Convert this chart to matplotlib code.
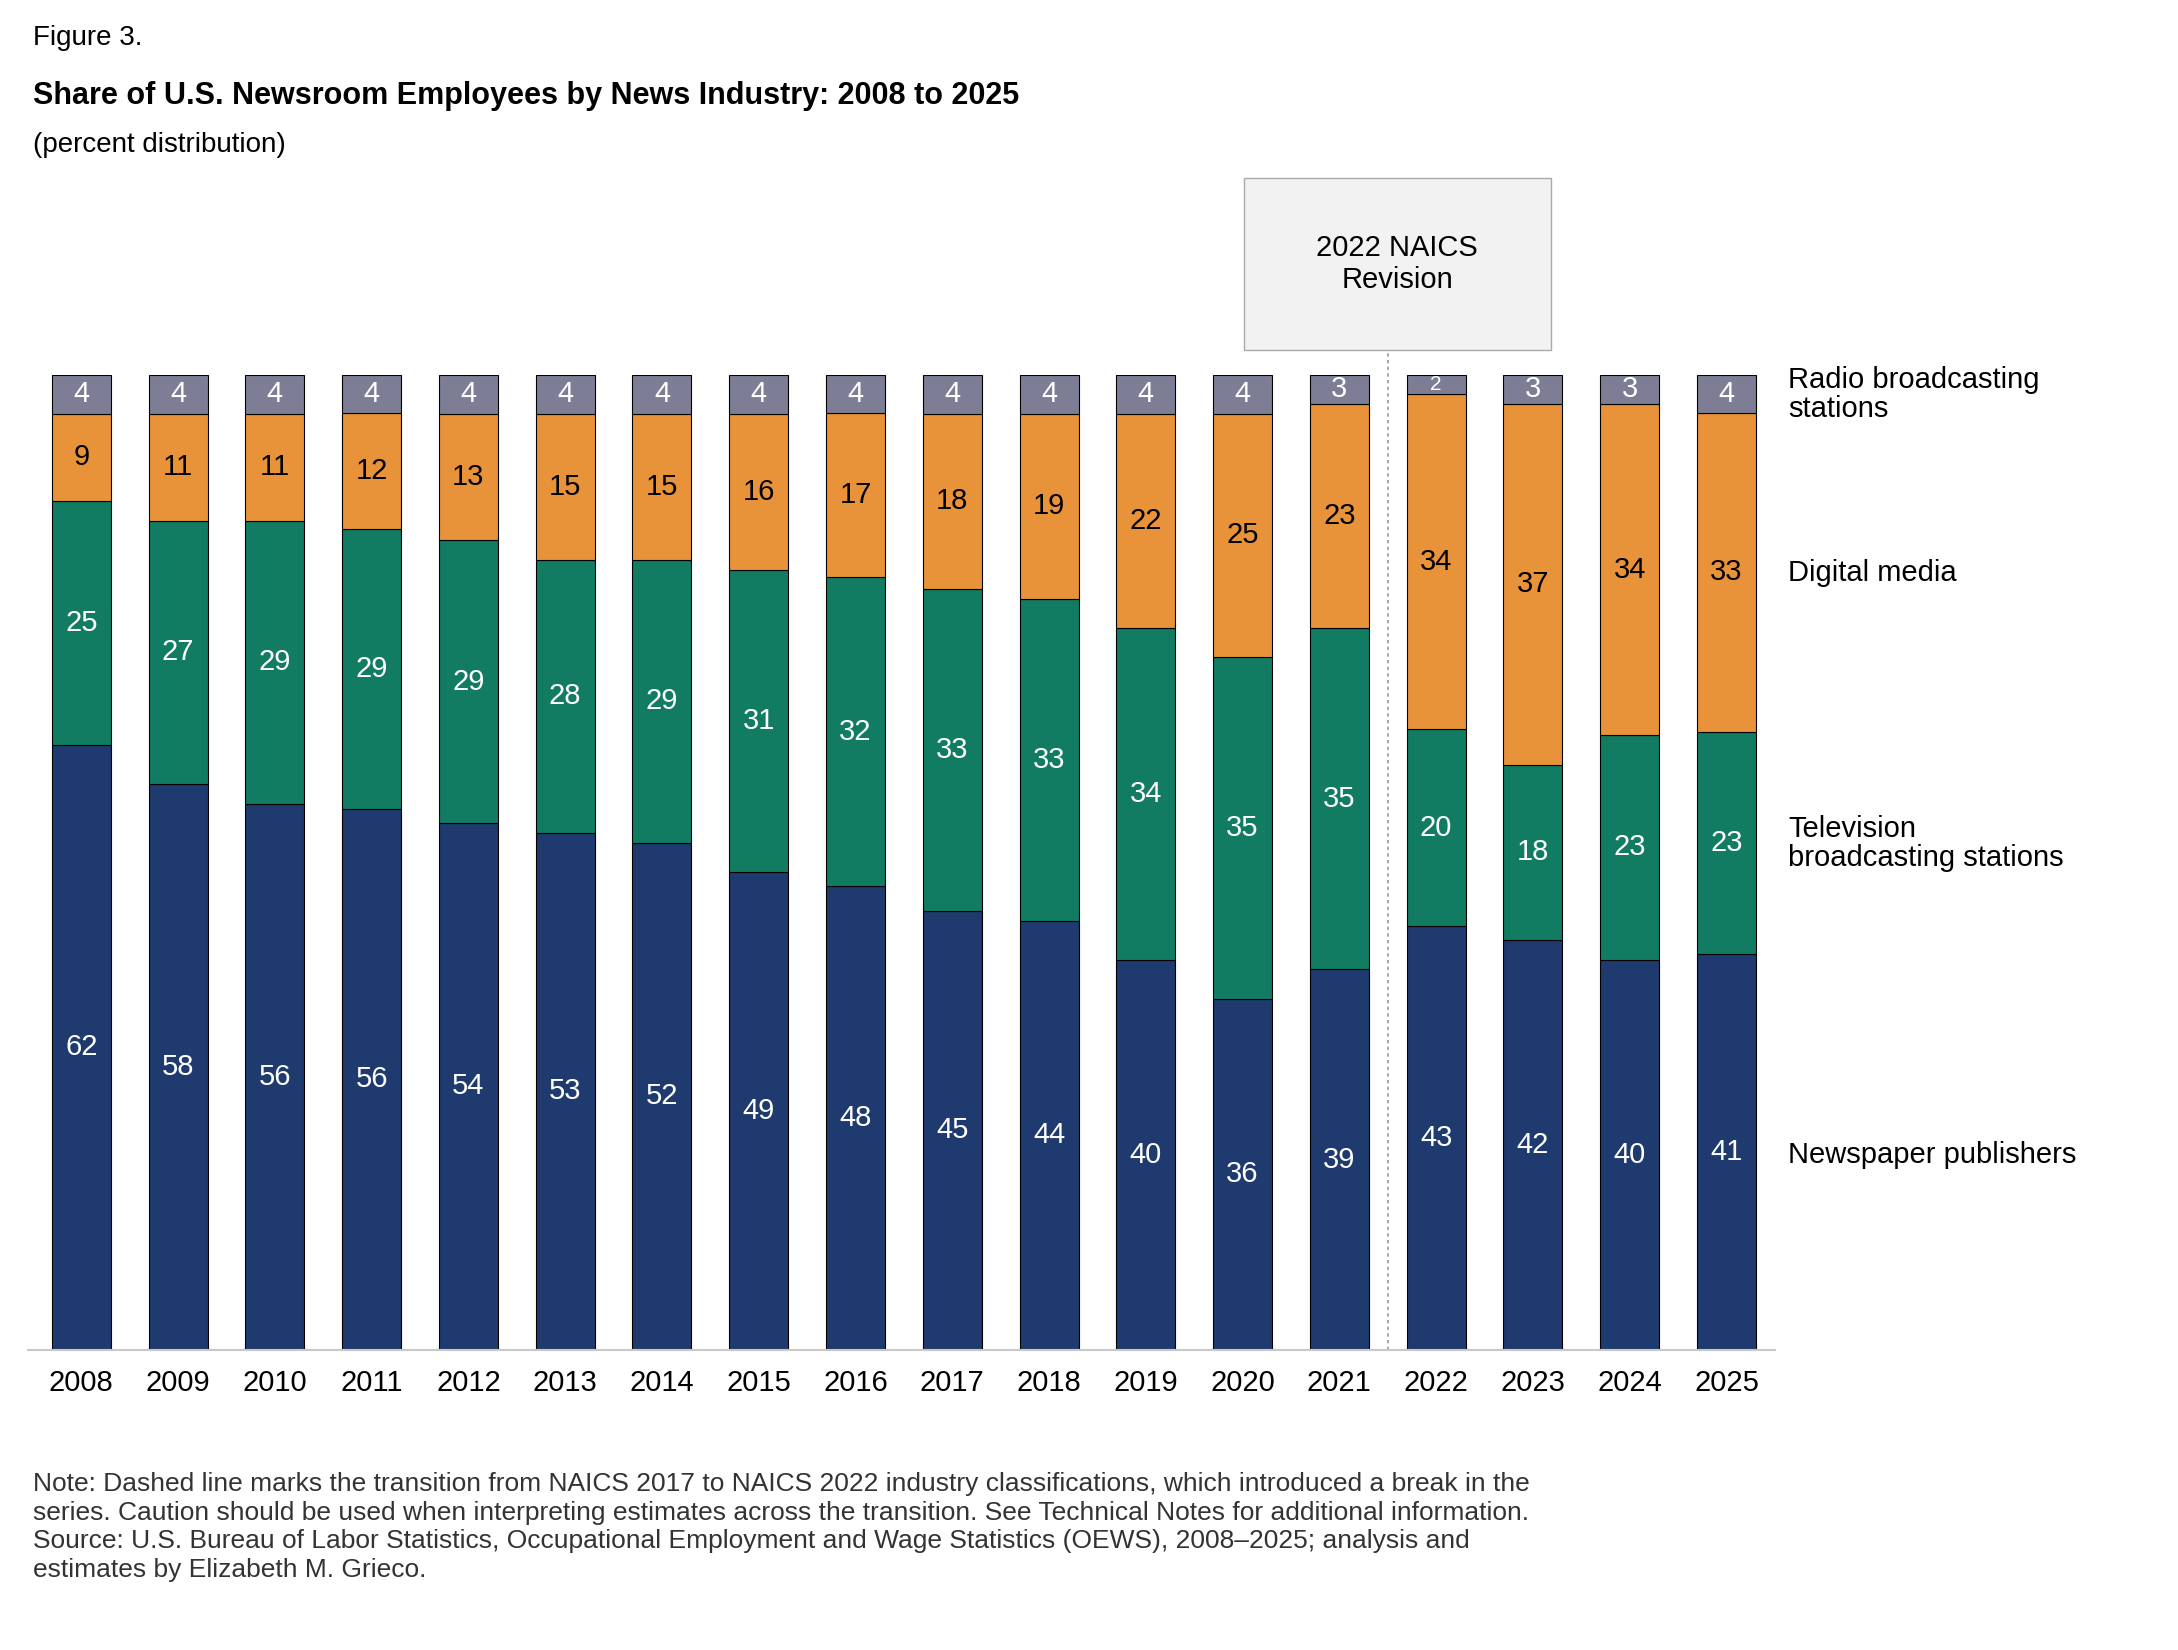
import numpy as np
import matplotlib.pyplot as plt
from matplotlib.patches import Rectangle

plt.rcParams['font.family'] = ['Liberation Sans', 'DejaVu Sans']

years = [str(y) for y in range(2008, 2026)]
newspaper = [62, 58, 56, 56, 54, 53, 52, 49, 48, 45, 44, 40, 36, 39, 43, 42, 40, 41]
television = [25, 27, 29, 29, 29, 28, 29, 31, 32, 33, 33, 34, 35, 35, 20, 18, 23, 23]
digital = [9, 11, 11, 12, 13, 15, 15, 16, 17, 18, 19, 22, 25, 23, 34, 37, 34, 33]
radio = [4, 4, 4, 4, 4, 4, 4, 4, 4, 4, 4, 4, 4, 3, 2, 3, 3, 4]

series = [("Newspaper publishers", newspaper, "#1f3a6e", "white"),
          ("Television\nbroadcasting stations", television, "#127c63", "white"),
          ("Digital media", digital, "#e8923a", "black"),
          ("Radio broadcasting\nstations", radio, "#7d7d96", "white")]

vals = np.array([s[1] for s in series], dtype=float)
shares = vals / vals.sum(axis=0) * 100

W, H = 2178, 1650
fig = plt.figure(figsize=(W / 100, H / 100), dpi=100)
ax = fig.add_axes([0.0129, 0.182, 0.802, 0.591])
x = np.arange(len(years))
bottom = np.zeros(len(years))
for i, (name, raw, color, tc) in enumerate(series):
    ax.bar(x, shares[i], 0.61, bottom=bottom, color=color, edgecolor="black", linewidth=0.8)
    for j in range(len(years)):
        fs = 15 if raw[j] <= 2 else 21
        ax.text(x[j], bottom[j] + shares[i][j] / 2, str(raw[j]), ha="center", va="center",
                color=tc, fontsize=fs)
    bottom += shares[i]

ax.set_xlim(-0.55, 17.5)
ax.set_ylim(0, 100)
ax.set_xticks(x, years, fontsize=21)
ax.tick_params(axis="x", length=0, pad=14)
ax.set_yticks([])
for s in ["top", "right", "left"]:
    ax.spines[s].set_visible(False)
ax.spines["bottom"].set_color("#c8c8c8")
ax.spines["bottom"].set_linewidth(1.5)

ax.plot([13.5, 13.5], [0, 102.6], ls=(0, (2, 2)), color="#999999", lw=1.2, clip_on=False)
fig.patches.append(Rectangle((0.571, 0.788), 0.141, 0.104, transform=fig.transFigure,
                             facecolor="#f2f2f2", edgecolor="#aaaaaa", lw=1))
fig.text(0.6415, 0.84, "2022 NAICS\nRevision", ha="center", va="center", fontsize=21,
         linespacing=1.2)

label_y = [0.30, 0.489, 0.653, 0.761]
for (name, _, _, _), yy in zip(series, label_y):
    fig.text(0.821, yy, name, ha="left", va="center", fontsize=21, linespacing=1.05)

fig.text(0.015, 0.977, "Figure 3.", fontsize=20, va="center")
fig.text(0.015, 0.942, "Share of U.S. Newsroom Employees by News Industry: 2008 to 2025",
         fontsize=22, fontweight="bold", va="center")
fig.text(0.015, 0.912, "(percent distribution)", fontsize=20, va="center")

note = ("Note: Dashed line marks the transition from NAICS 2017 to NAICS 2022 industry classifications, which introduced a break in the\n"
        "series. Caution should be used when interpreting estimates across the transition. See Technical Notes for additional information.\n"
        "Source: U.S. Bureau of Labor Statistics, Occupational Employment and Wage Statistics (OEWS), 2008\u20132025; analysis and\n"
        "estimates by Elizabeth M. Grieco.")
fig.text(0.015, 0.108, note, fontsize=19, va="top", color="#333333", linespacing=1.25)

fig.savefig("out.png", dpi=100)
